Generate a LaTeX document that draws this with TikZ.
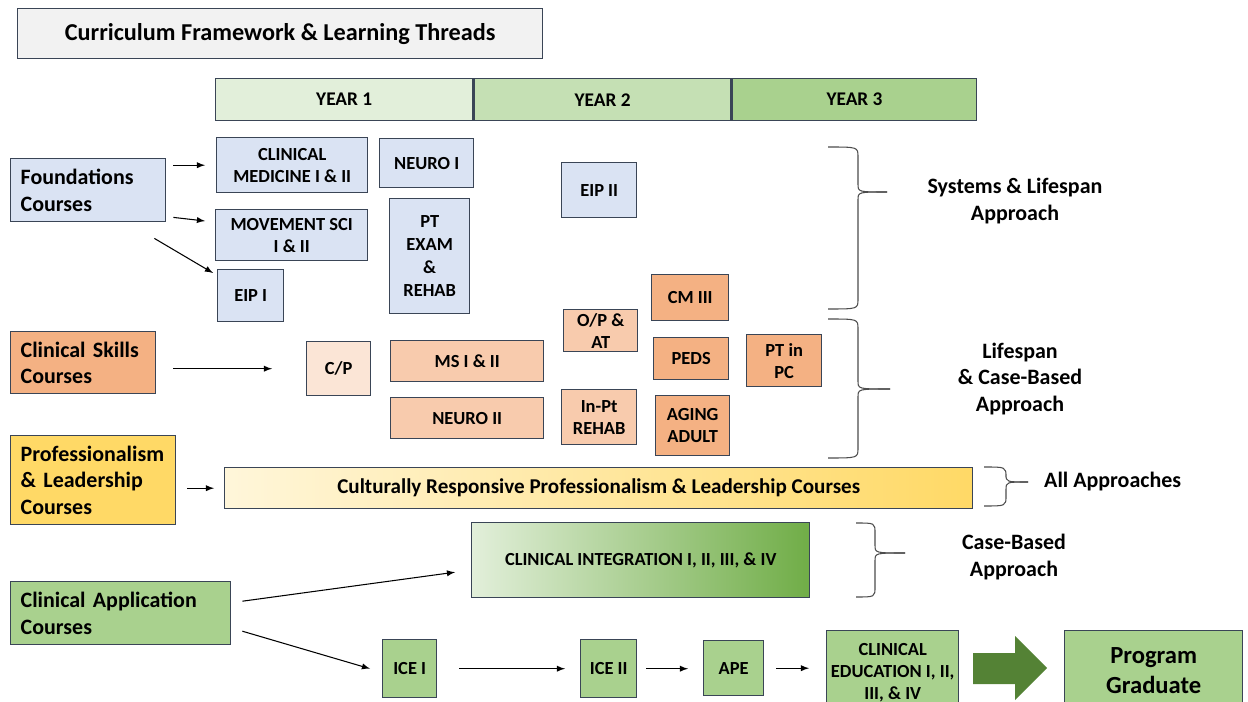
\documentclass[tikz,border=0pt]{standalone}
\usepackage{fontspec}
\setmainfont{Carlito}
\usepackage{tikz}
\usetikzlibrary{positioning,calc,arrows}
\definecolor{boxline}{HTML}{3A4556}
\definecolor{titlegray}{HTML}{F2F2F2}
\definecolor{foundblue}{HTML}{DAE3F3}
\definecolor{skillpale}{HTML}{FBE5D6}
\definecolor{skillmid}{HTML}{F8CBAD}
\definecolor{skilldark}{HTML}{F4B183}
\definecolor{profgold}{HTML}{FFD966}
\definecolor{profpale}{HTML}{FFF6DA}
\definecolor{yrone}{HTML}{E2EFDA}
\definecolor{yrtwo}{HTML}{C5E0B4}
\definecolor{yrthree}{HTML}{A9D18E}
\definecolor{appgreen}{HTML}{A9D18E}
\definecolor{intgreen}{HTML}{70AD47}
\definecolor{bigarrow}{HTML}{548235}
\tikzset{course/.style={draw=boxline, line width=0.8pt, anchor=north west, align=center, inner sep=1pt, font=\bfseries\fontsize{10.5}{12.5}\selectfont}}
\tikzset{found/.style={course, fill=foundblue}}
\tikzset{skillA/.style={course, fill=skillpale}}
\tikzset{skillB/.style={course, fill=skillmid}}
\tikzset{skillC/.style={course, fill=skilldark}}
\tikzset{apply/.style={course, fill=appgreen}}
\tikzset{thread/.style={draw=boxline, line width=0.8pt, anchor=north west, align=left, inner xsep=2mm, inner ysep=1pt, font=\bfseries\fontsize{12.5}{15}\selectfont}}
\tikzset{yearbox/.style={course, font=\bfseries\fontsize{11}{13}\selectfont, minimum height=42*0.02cm, minimum width=257*0.02cm}}
\tikzset{approach/.style={align=center, font=\bfseries\fontsize{12.5}{15}\selectfont}}
\tikzset{arr/.style={draw, -latex, line width=0.6pt}}
\tikzset{bracel/.style={draw=black!70, line width=0.6pt}}
% right brace: end x, spine x, tip x, top y, tip y, bottom y
\newcommand\apbrace[6]{
	\draw[bracel] (#1,#4) .. controls (#2,#4) .. (#2,#4+10) -- (#2,#5-8) .. controls (#2,#5) .. (#3,#5);
	\draw[bracel] (#3,#5) .. controls (#2,#5) .. (#2,#5+8) -- (#2,#6-10) .. controls (#2,#6) .. (#1,#6);
	}

\begin{document}
\begin{tikzpicture}[x=0.02cm, y=-0.02cm]
	\useasboundingbox (0,0) rectangle (1248,702);
	\node[course, fill=titlegray, minimum width=525*0.02cm, minimum height=50*0.02cm, font=\bfseries\fontsize{13.8}{16}\selectfont] (title) at (17,8) {Curriculum Framework \& Learning Threads};
	% years
	\node[yearbox, fill=yrone] (yr1) at (215,78) {YEAR 1};
	\node[yearbox, fill=yrtwo, anchor=west] (yr2) at (yr1.east) {YEAR 2};
	\node[yearbox, fill=yrthree, anchor=west, minimum width=244*0.02cm] (yr3) at (yr2.east) {YEAR 3};
	% foundations thread
	\node[thread, fill=foundblue, text width=2.7cm, minimum height=63*0.02cm] (found) at (10,158) {Foundations\\Courses};
	\node[found, minimum width=151*0.02cm, minimum height=55*0.02cm] (cm) at (216,137) {CLINICAL\\MEDICINE I \& II};
	\node[found, minimum width=94*0.02cm, minimum height=49*0.02cm] (neuro1) at (379,138) {NEURO I};
	\node[found, minimum width=152*0.02cm, minimum height=51*0.02cm] (mov) at (215,209) {MOVEMENT SCI\\I \& II};
	\node[found, minimum width=80*0.02cm, minimum height=115*0.02cm, font=\bfseries\fontsize{10.5}{13}\selectfont] (ptexam) at (389,198) {PT\\EXAM\\\&\\REHAB};
	\node[found, minimum width=66*0.02cm, minimum height=52*0.02cm] (eip1) at (217,269) {EIP I};
	\node[found, minimum width=75*0.02cm, minimum height=55*0.02cm] (eip2) at (561,162) {EIP II};
	% clinical skills thread
	\node[thread, fill=skilldark, text width=2.5cm, minimum height=62*0.02cm] (skills) at (10,331) {Clinical Skills\\Courses};
	\node[skillA, minimum width=64*0.02cm, minimum height=54*0.02cm] (cp) at (306,341) {C/P};
	\node[skillB, minimum width=153*0.02cm, minimum height=41*0.02cm] (ms) at (390,340) {MS I \& II};
	\node[skillB, minimum width=153*0.02cm, minimum height=41*0.02cm] (neuro2) at (390,397) {NEURO II};
	\node[skillB, minimum width=74*0.02cm, minimum height=42*0.02cm] (opat) at (563,309) {O/P \&\\AT};
	\node[skillB, minimum width=75*0.02cm, minimum height=55*0.02cm] (inpt) at (561,389) {In-Pt\\REHAB};
	\node[skillC, minimum width=77*0.02cm, minimum height=46*0.02cm] (cm3) at (651,274) {CM III};
	\node[skillC, minimum width=75*0.02cm, minimum height=42*0.02cm] (peds) at (653,337) {PEDS};
	\node[skillC, minimum width=74*0.02cm, minimum height=60*0.02cm] (aging) at (655,395) {AGING\\ADULT};
	\node[skillC, minimum width=75*0.02cm, minimum height=52*0.02cm] (ptpc) at (746,334) {PT in\\PC};
	% professionalism thread
	\node[thread, fill=profgold, text width=2.9cm, minimum height=89*0.02cm] (prof) at (10,435) {Professionalism\\\& Leadership\\Courses};
	\node[course, left color=profpale, right color=profgold, minimum width=748*0.02cm, minimum height=41*0.02cm, font=\bfseries\fontsize{12}{14}\selectfont] (crpl) at (224,467) {Culturally Responsive Professionalism \& Leadership Courses};
	% clinical application thread
	\node[thread, fill=appgreen, text width=4cm, minimum height=63*0.02cm] (apply) at (10,581) {Clinical Application\\Courses};
	\node[course, left color=yrone, right color=intgreen, minimum width=338*0.02cm, minimum height=75*0.02cm] (integ) at (471,522) {CLINICAL INTEGRATION I, II, III, \& IV};
	\node[apply, minimum width=54*0.02cm, minimum height=58*0.02cm] (ice1) at (382,639) {ICE I};
	\node[apply, minimum width=56*0.02cm, minimum height=58*0.02cm] (ice2) at (580,639) {ICE II};
	\node[apply, minimum width=60*0.02cm, minimum height=55*0.02cm] (ape) at (703,640) {APE};
	\node[apply, minimum width=132*0.02cm, minimum height=84*0.02cm] (clined) at (826,630) {CLINICAL\\EDUCATION I, II,\\III, \& IV};
	\node[apply, minimum width=178*0.02cm, minimum height=80*0.02cm, font=\bfseries\fontsize{14}{17}\selectfont] (grad) at (1064,630) {Program\\Graduate};
	\fill[bigarrow] (973,653) -- (1015,653) -- (1015,636) -- (1047,668) -- (1015,700) -- (1015,684) -- (973,684) -- cycle;
	% approaches
	\apbrace{828}{858}{887}{147}{192}{309}
	\apbrace{828}{858}{890}{319}{389}{458}
	\apbrace{984}{1006}{1028}{467}{482}{506}
	\apbrace{856}{875}{905}{523}{553}{597}
	\node[approach] (sysl) at (1015,201) {Systems \& Lifespan\\Approach};
	\node[approach] (lifel) at (1020,379) {Lifespan\\\& Case-Based\\Approach};
	\node[approach, anchor=west] (alll) at (1038,482) {All Approaches};
	\node[approach] (casel) at (1014,557) {Case-Based\\Approach};
	% arrows
	\draw[arr, shorten <=1.4mm, shorten >=2.2mm] (found.east |- cm.west) -- (cm.west);
	\draw[arr] ($(found.south east)+(7,-5)$) -- ($(mov.north west)+(-10,12)$);
	\draw[arr] ($(found.south east)+(-12,16)$) -- ($(eip1.north west)+(-4,4)$);
	\draw[arr, shorten <=3.4mm, shorten >=6.8mm] (skills.east |- cp.west) -- (cp.west);
	\draw[arr, shorten <=2.2mm, shorten >=2mm] (prof.east |- crpl.west) -- (crpl.west);
	\draw[arr] ($(apply.east)+(11,-12)$) -- ($(integ.west)+(-16,12)$);
	\draw[arr] ($(apply.east)+(11,18)$) -- ($(ice1.west)+(-12,0)$);
	\draw[arr, shorten <=4.4mm, shorten >=3mm] (ice1.east) -- (ice1.east -| ice2.west);
	\draw[arr, shorten <=1.8mm, shorten >=3mm] (ice2.east) -- (ice2.east -| ape.west);
	\draw[arr, shorten <=2.4mm, shorten >=3.4mm] (ape.east) -- (ape.east -| clined.west);
\end{tikzpicture}
\end{document}
